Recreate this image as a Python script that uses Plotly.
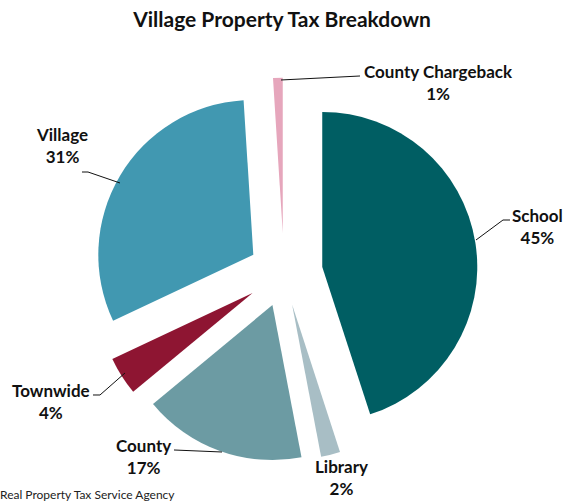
import plotly.graph_objects as go

# ---- data ----
categories = ["School", "Library", "County", "Townwide", "Village", "County Chargeback"]
percent = [45, 2, 17, 4, 31, 1]
colors = ["#005E63", "#A8BEC5", "#6C9BA3", "#8E1532", "#4198B1", "#E6A6BC"]
pulls = [0.25, 0.21, 0.22, 0.24, 0.23, 0.26]
title_text = "Village Property Tax Breakdown"
source_text = "Real Property Tax Service Agency"

W, H = 564, 502


def px(x, y):
    return x / W, 1 - y / H


# pie placement (pixel centre in window coords, radius)
CX, CY, R = 284, 273, 155
maxpull = max(pulls)
half = R * (1 + maxpull)
cxp, cyp = px(CX, CY)
dom_x = [cxp - half / W, cxp + half / W]
dom_y = [cyp - half / H, cyp + half / H]

fig = go.Figure()
fig.add_trace(go.Pie(
    labels=categories,
    values=percent,
    sort=False,
    direction="clockwise",
    rotation=0,
    pull=pulls,
    marker=dict(colors=colors, line=dict(width=0)),
    textinfo="none",
    hoverinfo="label+percent",
    showlegend=False,
    domain=dict(x=dom_x, y=dom_y),
))

# label positions (pixel centres) and leader lines (pixel paths)
label_pos = {
    "School": (537, 226),
    "Library": (341, 477),
    "County": (143, 456),
    "Townwide": (51, 401),
    "Village": (62, 146),
    "County Chargeback": (438, 83),
}
leaders = {
    "School": [(476, 240), (503, 220), (510, 220)],
    "County": [(174, 450), (222, 452)],
    "Townwide": [(93, 395), (100, 395), (125, 373)],
    "Village": [(82, 172), (88, 172), (120, 183)],
    "County Chargeback": [(281, 80), (360, 76)],
}

FONT = "Lato, Carlito, sans-serif"
annotations = []
for cat, pct in zip(categories, percent):
    x, y = px(*label_pos[cat])
    annotations.append(dict(
        x=x, y=y, xref="paper", yref="paper",
        text=f"<b>{cat}<br>{pct}%</b>",
        showarrow=False, xanchor="center", yanchor="middle",
        font=dict(family=FONT, size=17, color="#111111"),
    ))

annotations.append(dict(
    x=px(-2, 0)[0], y=px(0, 494)[1], xref="paper", yref="paper",
    text=source_text, showarrow=False, xanchor="left", yanchor="middle",
    font=dict(family=FONT, size=12, color="#222222"),
))

shapes = []
for cat, pts in leaders.items():
    pp = [px(a, b) for a, b in pts]
    path = "M " + " L ".join(f"{a:.5f},{b:.5f}" for a, b in pp)
    shapes.append(dict(type="path", path=path, xref="paper", yref="paper",
                       line=dict(color="#111111", width=1)))

fig.update_layout(
    width=W, height=H,
    margin=dict(l=0, r=0, t=0, b=0),
    paper_bgcolor="white",
    plot_bgcolor="white",
    title=dict(text=f"<b>{title_text}</b>", x=px(282, 0)[0], xanchor="center",
               y=px(0, 20)[1], yanchor="middle", yref="container", xref="container",
               font=dict(family=FONT, size=21, color="#111111")),
    annotations=annotations,
    shapes=shapes,
)

fig.write_html(
    "out.html",
    config={"displayModeBar": False},
    post_script="document.body.style.margin='0';document.body.style.overflow='hidden';",
)
